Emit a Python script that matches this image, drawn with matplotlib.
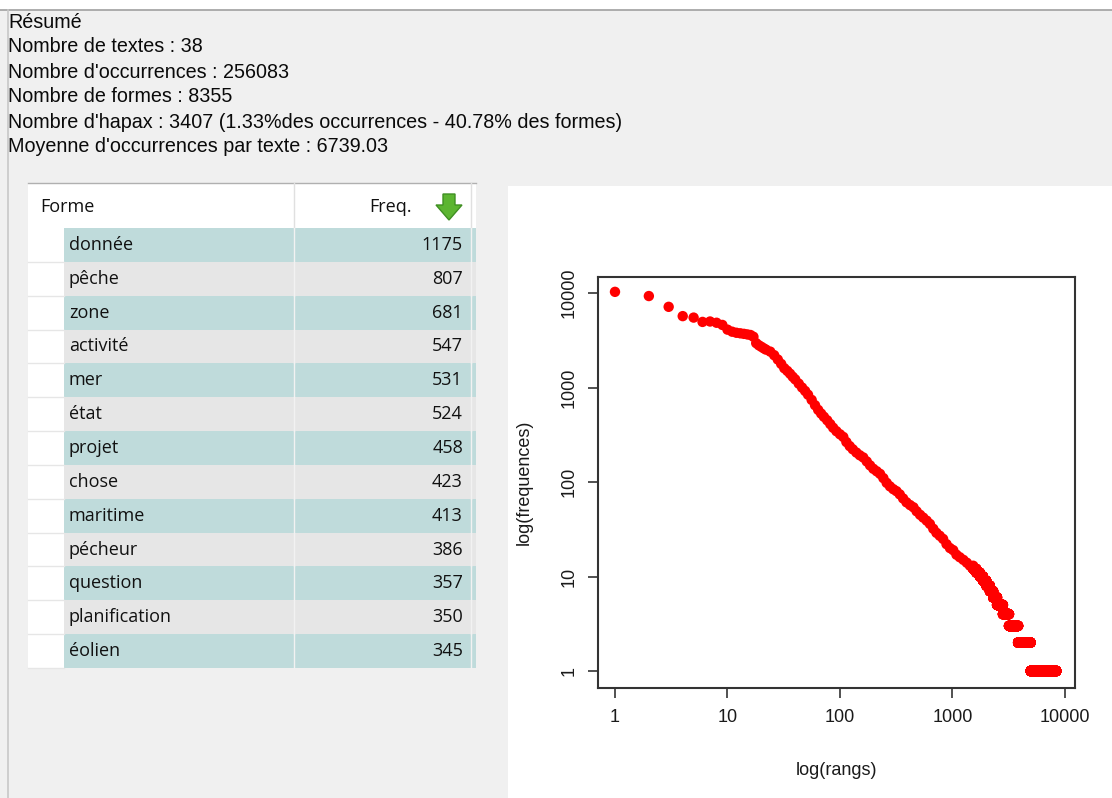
import numpy as np
import matplotlib.pyplot as plt
from matplotlib.patches import Rectangle, Polygon
from matplotlib.ticker import FixedLocator, FixedFormatter, NullLocator

# Résumé du corpus
summary_lines = [
    "Résumé",
    "Nombre de textes : 38",
    "Nombre d'occurrences : 256083",
    "Nombre de formes : 8355",
    "Nombre d'hapax : 3407 (1.33%des occurrences - 40.78% des formes)",
    "Moyenne d'occurrences par texte : 6739.03",
]

# Tableau des formes
formes = ["donnée", "pêche", "zone", "activité", "mer", "état", "projet",
          "chose", "maritime", "pécheur", "question", "planification", "éolien"]
freq_formes = [1175, 807, 681, 547, 531, 524, 458, 423, 413, 386, 357, 350, 345]

# Courbe rangs / fréquences
top_ranks = [1, 2, 3, 4, 5, 6, 7, 8, 9, 10, 11, 12, 13, 14, 15, 16, 17, 18, 19, 20,
             21, 22, 24, 26, 28, 30, 32, 34, 36, 38, 40, 43, 46, 49, 52, 56, 60, 64,
             68, 72, 77, 82, 87, 93, 100, 107, 114, 122, 130, 140, 150, 161, 173,
             185, 198, 212, 227, 243, 260, 278, 298, 318, 340, 364, 390, 420, 450,
             480, 515, 550, 590, 630, 675, 720, 770, 825, 885, 950, 1015, 1085,
             1160, 1250, 1340, 1430, 1528]
top_freqs = [10300, 9300, 7150, 5700, 5500, 4950, 5000, 4850, 4600, 4100, 3900, 3800,
             3750, 3700, 3650, 3600, 3450, 2950, 2800, 2700, 2600, 2520, 2400, 2200,
             1980, 1780, 1600, 1500, 1400, 1300, 1220, 1100, 1000, 920, 840, 740,
             650, 580, 530, 490, 450, 410, 375, 345, 320, 300, 265, 240, 222, 205,
             192, 182, 165, 150, 138, 130, 122, 110, 98, 90, 84, 80, 74, 67, 61, 57,
             54, 49, 45, 42, 39, 36, 32, 29, 27, 25, 22, 20, 19, 17, 16, 15, 14, 13, 13]
# nombre de formes par petite fréquence
low_freq_values = [12, 11, 10, 9, 8, 7, 6, 5, 4, 3, 2, 1]
low_freq_counts = [100, 120, 120, 130, 150, 150, 190, 320, 370, 650, 1120, 3407]

ranks = list(top_ranks)
freqs = list(top_freqs)
start = top_ranks[-1] + 1
for f, n in zip(low_freq_values, low_freq_counts):
    ranks.extend(range(start, start + n))
    freqs.extend([f] * n)
    start += n

W, H = 1112, 798
fig = plt.figure(figsize=(W / 100, H / 100), dpi=100)
fig.patch.set_facecolor("#f0f0f0")

bg = fig.add_axes([0, 0, 1, 1])
bg.set_xlim(0, W)
bg.set_ylim(H, 0)
bg.axis("off")

# bandeau / bordures de la fenêtre
bg.add_patch(Rectangle((0, 0), W, 10, color="white", lw=0))
bg.plot([0, W], [10, 10], color="#a0a0a0", lw=1.2)
bg.plot([8, 8], [10, H], color="#c8c8c8", lw=1.2)

for i, line in enumerate(summary_lines):
    bg.text(8, 22 + 25 * i, line, fontsize=14.2, family="Liberation Sans",
            va="center", ha="left", color="#0a0a0a")

# tableau
tx0, tx1, tcol = 28, 476, 294
head_top, head_bot = 183, 228
row_h = (668 - head_bot) / len(formes)
bg.add_patch(Rectangle((tx0, head_top), tx1 - tx0, head_bot - head_top, color="white", lw=0))
bg.plot([tx0, tx1], [head_top, head_top], color="#b0b0b0", lw=1)
bg.plot([tcol, tcol], [head_top, head_bot], color="#e0e0e0", lw=1)
bg.plot([471, 471], [head_top, head_bot], color="#e0e0e0", lw=1)
bg.text(40, 207, "Forme", fontsize=13, family="Open Sans", va="center", color="#111111")
bg.text(412, 207, "Freq.", fontsize=13, family="Open Sans", va="center", ha="right",
        color="#111111")
arrow = Polygon([(443, 194), (455, 194), (455, 205), (462, 205), (449, 220),
                 (436, 205), (443, 205)], closed=True, facecolor="#5cb531",
                edgecolor="#3f8f22", lw=1)
bg.add_patch(arrow)

for i, (forme, fq) in enumerate(zip(formes, freq_formes)):
    y0 = head_bot + i * row_h
    col = "#bfdbdb" if i % 2 == 0 else "#e6e6e6"
    bg.add_patch(Rectangle((tx0, y0), 36, row_h, color="white", lw=0))
    bg.add_patch(Rectangle((64, y0), 471 - 64, row_h, color=col, lw=0))
    bg.add_patch(Rectangle((471, y0), tx1 - 471, row_h, color=col, lw=0))
    bg.plot([tx0, 64], [y0 + row_h, y0 + row_h], color="#e6e6e6", lw=1)
    bg.plot([tcol, tcol], [y0, y0 + row_h], color="#f2f2f2", lw=1)
    bg.plot([471, 471], [y0, y0 + row_h], color="#f2f2f2", lw=1)
    bg.text(69, y0 + row_h / 2, forme, fontsize=13, family="Open Sans",
            va="center", color="#111111")
    bg.text(463, y0 + row_h / 2, str(fq), fontsize=13, family="Open Sans",
            va="center", ha="right", color="#111111")

# panneau du graphique
bg.add_patch(Rectangle((508, 186), W - 508, H - 186, color="white", lw=0))

ax = fig.add_axes([598 / W, 1 - 688 / H, (1075 - 598) / W, (688 - 277) / H])
ax.scatter(ranks, freqs, s=56, color="red", edgecolors="none")
ax.set_xscale("log")
ax.set_yscale("log")
ax.set_xlim(10 ** -0.151, 10 ** 4.089)
ax.set_ylim(10 ** -0.18, 10 ** 4.17)
ticks = [1, 10, 100, 1000, 10000]
labels = ["1", "10", "100", "1000", "10000"]
for axis in (ax.xaxis, ax.yaxis):
    axis.set_major_locator(FixedLocator(ticks))
    axis.set_major_formatter(FixedFormatter(labels))
    axis.set_minor_locator(NullLocator())
ax.tick_params(length=7, width=1.2, color="#333333", labelsize=13,
               labelcolor="#1a1a1a", pad=8)
for lab in ax.get_yticklabels():
    lab.set_rotation(90)
    lab.set_va("center")
    lab.set_family("Liberation Sans")
for lab in ax.get_xticklabels():
    lab.set_family("Liberation Sans")
for sp in ax.spines.values():
    sp.set_linewidth(1.5)
    sp.set_color("#333333")
ax.set_xlabel("log(rangs)", fontsize=13, family="Liberation Sans", color="#1a1a1a",
              labelpad=26)
ax.set_ylabel("log(frequences)", fontsize=13, family="Liberation Sans", color="#1a1a1a",
              labelpad=20)

fig.savefig("out.png", dpi=100, facecolor=fig.get_facecolor())
